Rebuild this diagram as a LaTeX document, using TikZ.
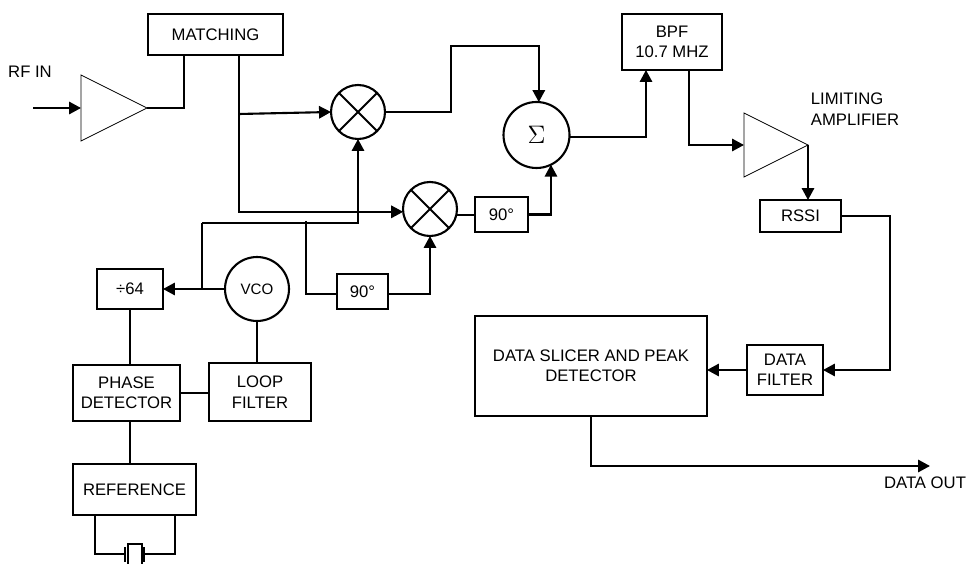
\documentclass[tikz,border=0pt]{standalone}
\usepackage{fontspec}
\setmainfont{Liberation Sans}
\usetikzlibrary{arrows.meta,calc}
\tikzset{>={Triangle[length=6.8pt,width=7pt]}}
\tikzset{
  wire/.style={line width=1.2pt},
  blockbox/.style={draw,line width=1.2pt,inner sep=0pt,align=center,outer sep=0pt,
    font=\fontsize{9.5}{11.6}\selectfont},
  circ/.style={draw,circle,line width=1.2pt,inner sep=0pt,outer sep=0pt,
    font=\fontsize{8.6}{10}\selectfont},
  lbl/.style={inner sep=0pt,align=left,font=\fontsize{9.5}{11.6}\selectfont},
}
\newcommand{\ampat}[4]{%
  \coordinate (#1in) at (#2,#3);
  \coordinate (#1out) at ($(#1in)+(#4,0)$);
  \draw[line width=.5pt,line join=miter] (#1in) ++(0,-#4/2) -- ++(0,#4) -- (#1out) -- cycle;
}
\newcommand{\mixerat}[3]{%
  \node[circ,minimum size=1.08cm] (#1) at (#2,#3) {};
  \draw[wire] (#1.45) -- (#1.225) (#1.135) -- (#1.-45);
}
\begin{document}
\begin{tikzpicture}[x=0.02cm,y=-0.02cm]
\useasboundingbox (0,0) rectangle (967,564);
\clip (0,0) rectangle (967,564);
\ampat{rf}{81}{108}{66}
\ampat{lim}{744}{145}{64}
\mixerat{mixa}{358}{112}
\mixerat{mixb}{430}{209}
\node[blockbox,minimum width=2.7cm,minimum height=.82cm] (matching) at (215.5,34.5) {MATCHING};
\node[blockbox,minimum width=2cm,minimum height=1.12cm] (bpf) at (672,42) {BPF\\10.7 MHZ};
\node[circ,minimum size=1.32cm,font=\fontsize{13.5}{14}\selectfont] (sum) at (536.5,135) {$\Sigma$};
\node[blockbox,minimum width=1.06cm,minimum height=.7cm] (shifta) at (501.5,214.5) {90°};
\node[blockbox,minimum width=1.02cm,minimum height=.7cm] (shiftb) at (362.5,291.5) {90°};
\node[blockbox,minimum width=1.62cm,minimum height=.64cm] (rssi) at (800.5,216) {RSSI};
\node[blockbox,minimum width=1.32cm,minimum height=.8cm] (div) at (130,289) {÷64};
\node[circ,minimum size=1.28cm] (vco) at (257,289) {VCO};
\node[blockbox,minimum width=2.14cm,minimum height=1.12cm] (phase) at (126.5,393) {PHASE\\DETECTOR};
\node[blockbox,minimum width=2.04cm,minimum height=1.16cm] (loop) at (260,392) {LOOP\\FILTER};
\node[blockbox,minimum width=2.46cm,minimum height=1.02cm] (ref) at (134.5,489.5) {REFERENCE};
\node[blockbox,minimum width=4.64cm,minimum height=2cm] (slicer) at (591,366) {DATA SLICER AND PEAK\\DETECTOR};
\node[blockbox,minimum width=1.52cm,minimum height=1cm] (filter) at (785,370) {DATA\\FILTER};
\node[lbl] (rflabel) at (30,72) {RF IN};
\node[lbl] (limit) at (855,109) {LIMITING\\AMPLIFIER};
\node[lbl] (dataout) at (925,483) {DATA OUT};
% tap points
\coordinate (rftap) at (184,55);
\coordinate (feed) at (239,55);
\coordinate (feeda) at (239,114);
\coordinate (vcotap) at (202,289);
\coordinate (lotap) at (202,223);
\coordinate (lotapb) at (306,221);
\coordinate (shiftbin) at (337,294);
\coordinate (shiftbout) at (388,294);
\coordinate (bpfin) at (646,70);
\coordinate (bpfout) at (689,70);
\coordinate (mixaturn) at (451,46);
\coordinate (rfstart) at (33,108);
\coordinate (outtap) at (591,416);
\coordinate (outend) at (930,466);
\draw[wire,->] (rfstart) -- (rfin);
\draw[wire] (rfout) -| (rftap);
\draw[wire,->] (feed) |- (mixb.186);
\draw[wire,->] (feeda) -- (mixa.west);
\draw[wire,->] (mixa.east) -| (mixaturn) -| (sum.86);
\draw[wire] (mixb.-12) -- (mixb.-12 -| shifta.west);
\draw[wire,->] (shifta.east) -| (sum.-64);
\draw[wire,->] (sum.-3) -| (bpfin);
\draw[wire,->] (bpfout) |- (limin);
\draw[wire,->] (limout) -- (limout |- rssi.north);
\draw[wire,->] (rssi.east) -- ++(49,0) |- (filter.east);
\draw[wire,->] (filter.west) -- (filter.west -| slicer.east);
\draw[wire,->] (outtap) |- (outend);
\draw[wire,->] (vco.west) -- (div.east);
\draw[wire] (vcotap) -- (lotap);
\draw[wire,->] (lotap) -| (mixa.south);
\draw[wire] (lotapb) |- (shiftbin);
\draw[wire,->] (shiftbout) -| (mixb.south);
\draw[wire] (div.south) -- (div.south |- phase.north);
\draw[wire] (vco.south) -- (vco.south |- loop.north);
\draw[wire] (phase.east) -- (phase.east -| loop.west);
\draw[wire] (div.south |- phase.south) -- (div.south |- ref.north);
% crystal
\coordinate (xtall) at (125,554);
\coordinate (xtalr) at (144,554);
\draw[line width=1pt] (95,515) |- (xtall);
\draw[line width=1pt] (175,515) |- (xtalr);
\draw[line width=.7pt] (125,547) -- (125,562) (144,547) -- (144,562);
\draw[line width=.7pt] (128,570) -- (128,544) -- (142,544) -- (142,570);
\end{tikzpicture}
\end{document}
